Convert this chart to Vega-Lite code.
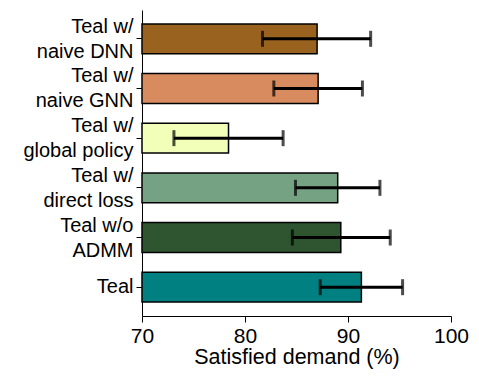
{
  "$schema": "https://vega.github.io/schema/vega-lite/v6.json",
  "width": 309,
  "height": 306,
  "padding": {"left": 22, "top": 10, "right": 5, "bottom": 5},
  "config": {
    "view": {"stroke": null},
    "axis": {"grid": false, "domainColor": "black", "tickColor": "black", "labelColor": "black", "titleColor": "black"}
  },
  "data": {"values": [
    {"name": "Teal w/|naive DNN", "value": 87.0, "lo": 81.7, "hi": 92.2},
    {"name": "Teal w/|naive GNN", "value": 87.1, "lo": 82.8, "hi": 91.4},
    {"name": "Teal w/|global policy", "value": 78.4, "lo": 73.1, "hi": 83.7},
    {"name": "Teal w/|direct loss", "value": 89.0, "lo": 84.9, "hi": 93.1},
    {"name": "Teal w/o|ADMM", "value": 89.3, "lo": 84.6, "hi": 94.1},
    {"name": "Teal", "value": 91.3, "lo": 87.3, "hi": 95.3}
  ]},
  "layer": [
    {
      "mark": {"type": "bar", "stroke": "black", "strokeWidth": 1.5},
      "encoding": {
        "y": {
          "field": "name", "type": "nominal", "sort": null,
          "scale": {"paddingInner": 0.4, "paddingOuter": 0.28},
          "axis": {"title": null, "labelFontSize": 20, "labelFont": "Arial", "labelExpr": "split(datum.label, '|')", "labelLineHeight": 25,
                   "labelOffset": {"condition": {"test": "datum.value == 'Teal'", "value": 0}, "value": -12},
                   "tickSize": 6, "labelPadding": 3}
        },
        "x": {"field": "value", "type": "quantitative", "scale": {"domain": [70, 100], "zero": false},
          "axis": {"title": "Satisfied demand (%)", "tickCount": 3, "labelFlush": false, "labelFont": "Arial", "titleFont": "Arial", "labelFontSize": 21, "titleFontSize": 21.5, "titleFontWeight": "normal", "tickSize": 6, "labelPadding": 3, "titlePadding": 0}},
        "x2": {"datum": 70},
        "color": {"field": "name", "type": "nominal", "legend": null,
          "scale": {"domain": ["Teal w/|naive DNN", "Teal w/|naive GNN", "Teal w/|global policy", "Teal w/|direct loss", "Teal w/o|ADMM", "Teal"],
                    "range": ["#99621F", "#D88B5F", "#F1FFB8", "#76A284", "#2E5430", "#008080"]}}
      }
    },
    {
      "mark": {"type": "rule", "color": "black", "strokeWidth": 3},
      "encoding": {"y": {"field": "name", "type": "nominal", "sort": null}, "x": {"field": "lo", "type": "quantitative"}, "x2": {"field": "hi"}}
    },
    {
      "mark": {"type": "tick", "color": "black", "thickness": 3, "size": 16},
      "encoding": {"y": {"field": "name", "type": "nominal", "sort": null}, "x": {"field": "lo", "type": "quantitative"}}
    },
    {
      "mark": {"type": "tick", "color": "black", "thickness": 3, "size": 16},
      "encoding": {"y": {"field": "name", "type": "nominal", "sort": null}, "x": {"field": "hi", "type": "quantitative"}}
    }
  ]
}
